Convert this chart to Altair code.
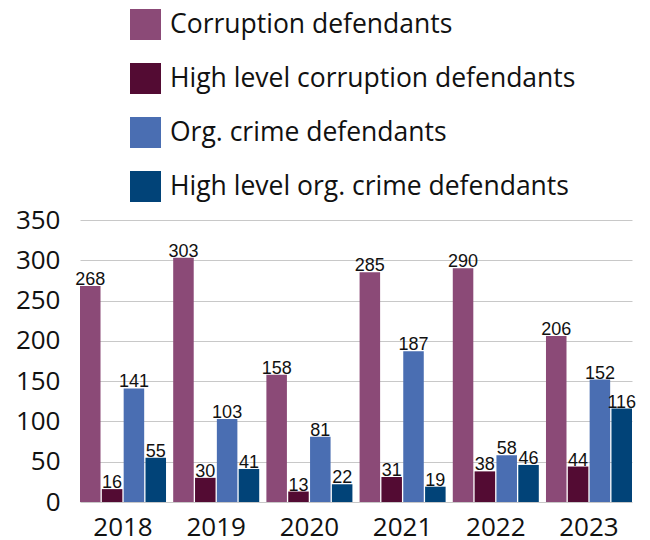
import altair as alt
import pandas as pd

years = ["2018", "2019", "2020", "2021", "2022", "2023"]
series = [
    "Corruption defendants",
    "High level corruption defendants",
    "Org. crime defendants",
    "High level org. crime defendants",
]
corruption = [268, 303, 158, 285, 290, 206]
high_corruption = [16, 30, 13, 31, 38, 44]
org_crime = [141, 103, 81, 187, 58, 152]
high_org_crime = [55, 41, 22, 19, 46, 116]
colors = ["#8B4A77", "#530B33", "#4A6EB2", "#014378"]
y_ticks = [0, 50, 100, 150, 200, 250, 300, 350]

rows = []
for vals, s in zip([corruption, high_corruption, org_crime, high_org_crime], series):
    for y, v in zip(years, vals):
        rows.append({"Year": y, "Series": s, "Value": v})
df = pd.DataFrame(rows)

x_enc = alt.X(
    "Year:N",
    sort=years,
    scale=alt.Scale(paddingInner=0.077, paddingOuter=0),
    axis=alt.Axis(
        title=None, labelAngle=0, labelFont="Open Sans", labelFontSize=26,
        labelColor="#111111", ticks=False, domain=False, labelPadding=12,
    ),
)
xoff = alt.XOffset(
    "Series:N", sort=series,
    scale=alt.Scale(paddingInner=0.06, paddingOuter=0),
)
y_enc = alt.Y(
    "Value:Q",
    scale=alt.Scale(domain=[0, 350], nice=False),
    axis=alt.Axis(
        title=None, values=y_ticks, labelFont="Open Sans", labelFontSize=26,
        labelColor="#111111", ticks=False, domain=False, labelPadding=20,
        gridColor="#c8c8c8", gridWidth=1,
    ),
)

bars = alt.Chart(df).mark_bar().encode(
    x=x_enc,
    xOffset=xoff,
    y=y_enc,
    color=alt.Color(
        "Series:N",
        sort=series,
        scale=alt.Scale(domain=series, range=colors),
        legend=alt.Legend(
            title=None, orient="none", legendX=50, legendY=-211,
            direction="vertical", symbolType="square", symbolSize=961,
            symbolStrokeWidth=0, labelFont="Open Sans", labelFontSize=26.5,
            labelColor="#111111", rowPadding=23, labelOffset=9, padding=0,
            labelLimit=600,
        ),
    ),
)

labels = alt.Chart(df).mark_text(
    font="Liberation Sans", fontSize=18, color="#111111",
    baseline="alphabetic", dy=-1,
).encode(
    x=x_enc,
    xOffset=xoff,
    y=y_enc,
    text="Value:Q",
)

chart = alt.layer(bars, labels).properties(
    width=552,
    height=282,
    autosize=alt.AutoSizeParams(type="none"),
    padding={"left": 72, "top": 212, "right": 10, "bottom": 36},
).configure_view(stroke=None)

chart.save("out.html", embed_options={"renderer": "svg", "actions": False})
